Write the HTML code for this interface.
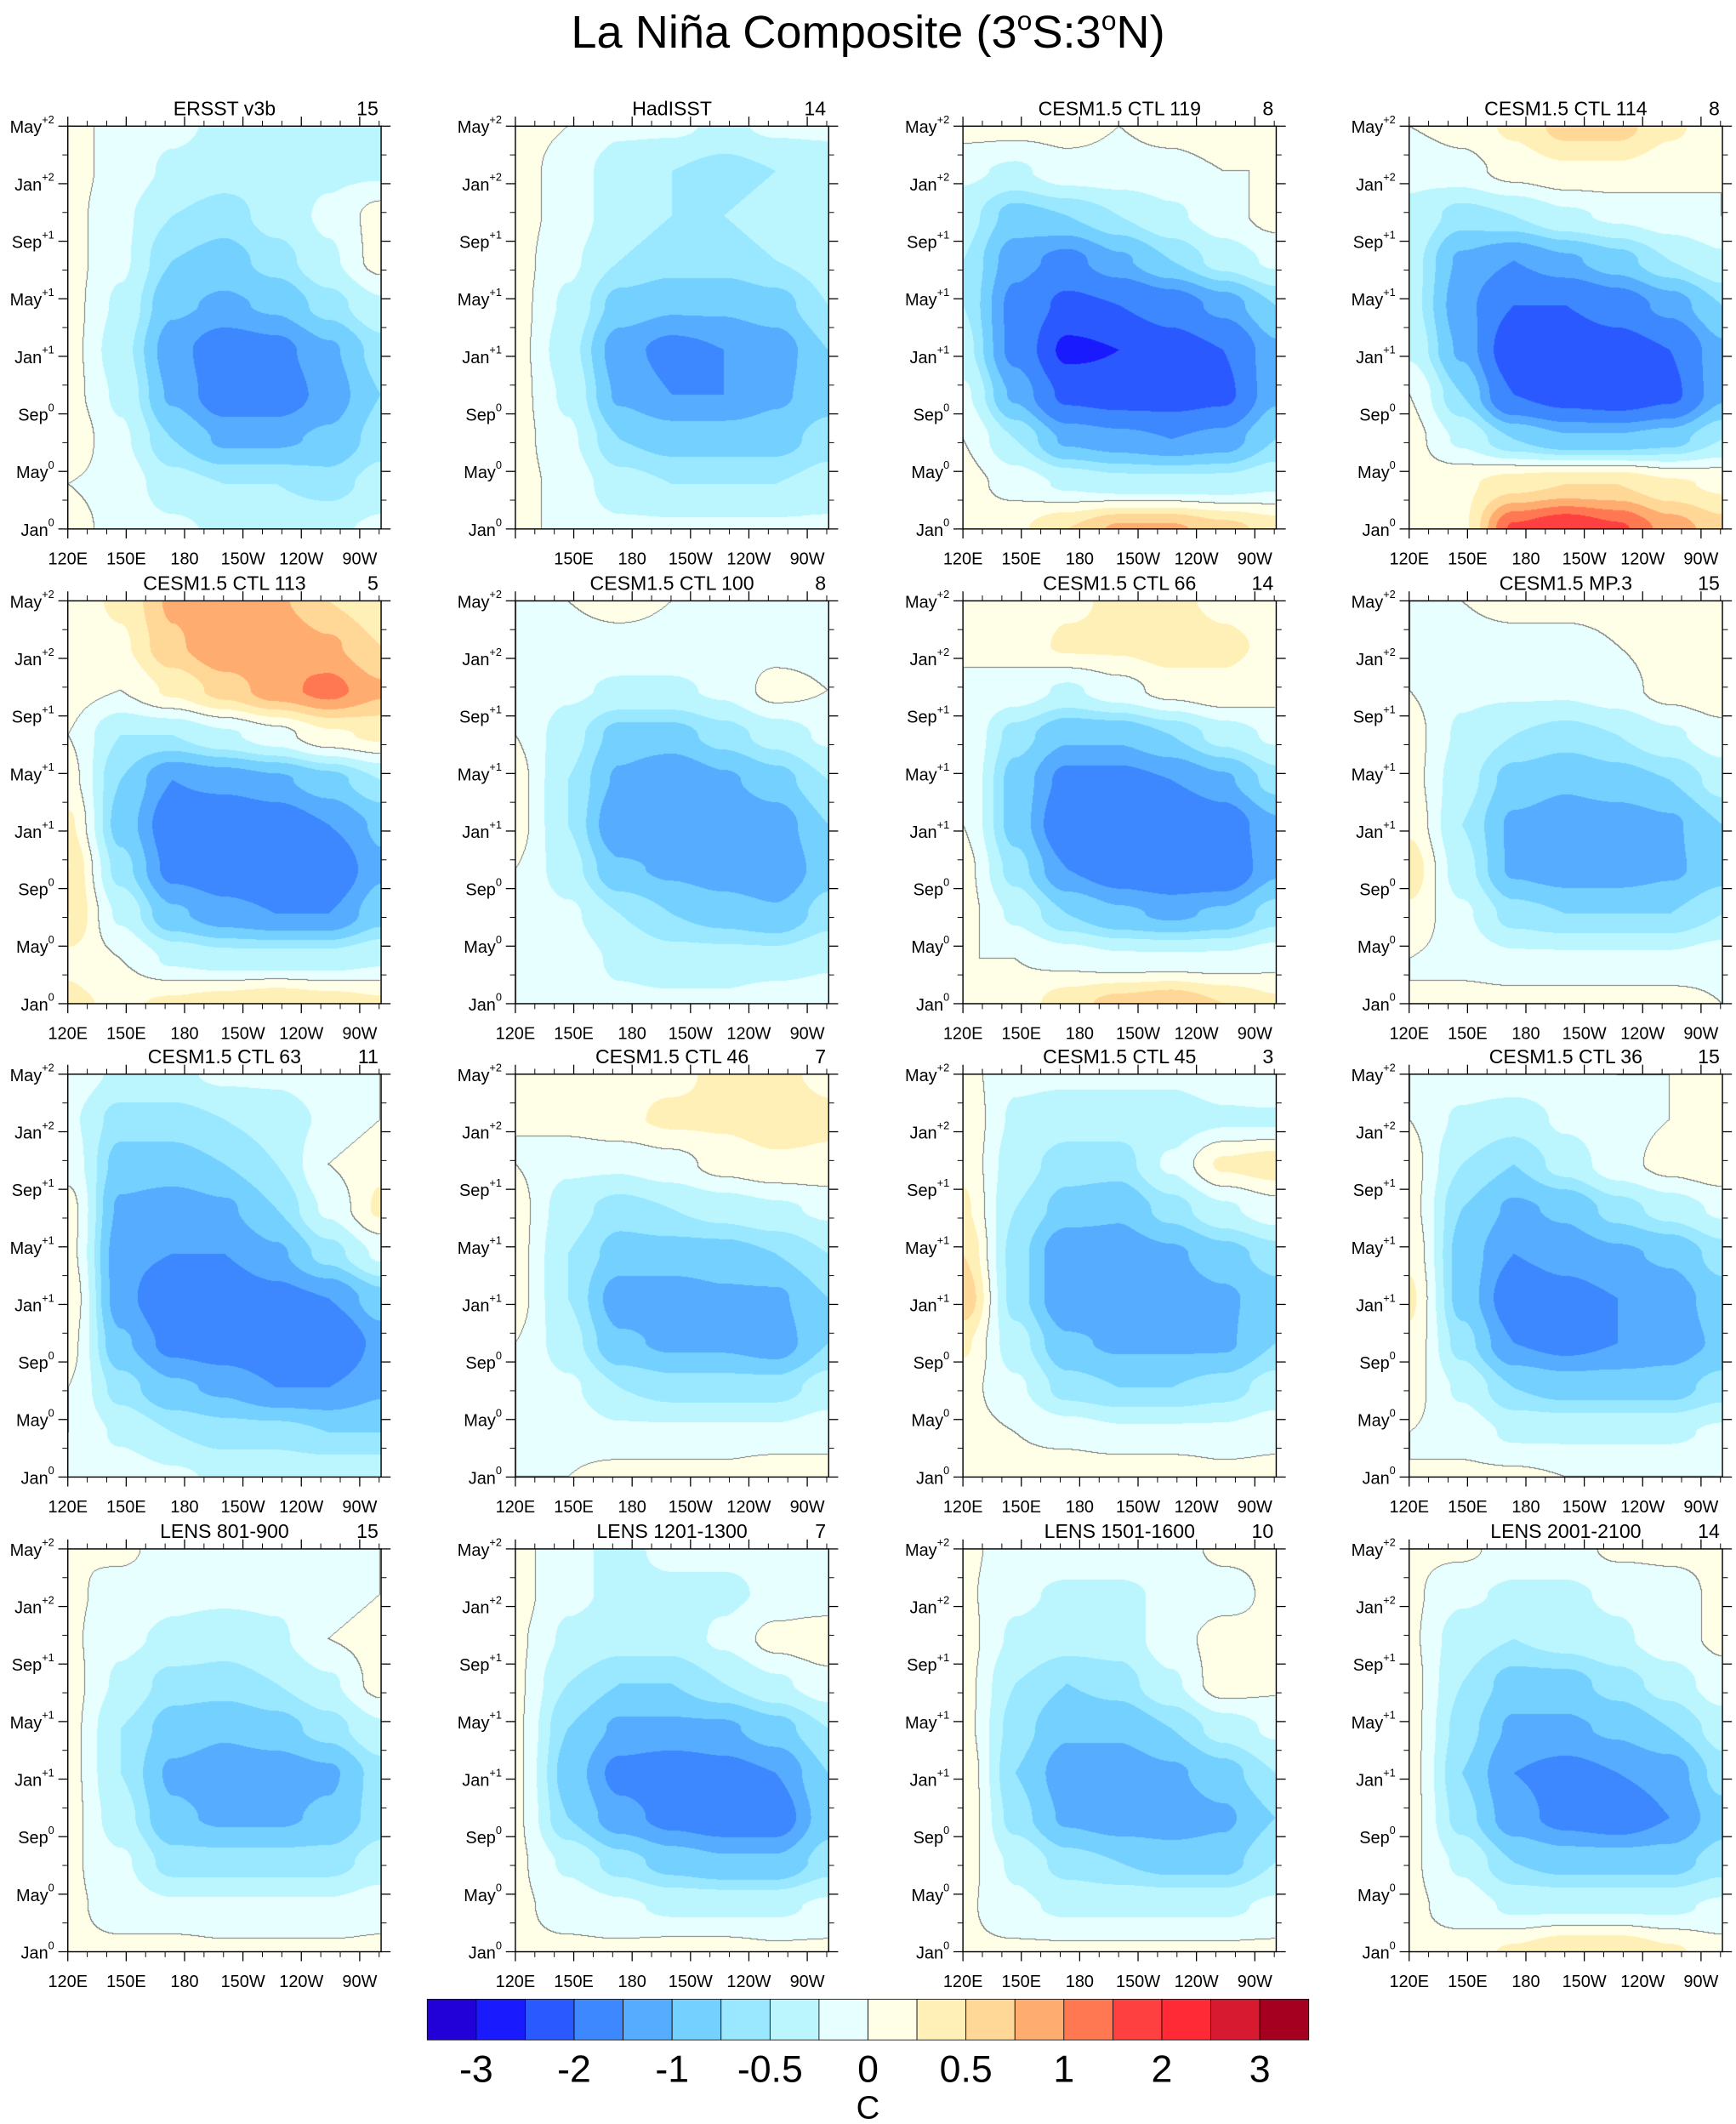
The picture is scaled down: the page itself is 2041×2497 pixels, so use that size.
<!DOCTYPE html>
<html><head><meta charset="utf-8"><style>
html,body{margin:0;padding:0;background:#fff;}
#wrap{position:relative;width:2041px;height:2497px;overflow:hidden;}
canvas,svg{position:absolute;left:0;top:0;}
text{font-family:"Liberation Sans",sans-serif;fill:#000;}
</style></head><body>
<div id="wrap">
<canvas id="cv" width="2041" height="2497"></canvas>
<svg id="sv" width="2041" height="2497" viewBox="0 0 1280 1566" preserveAspectRatio="none">
<text x="640" y="35" font-size="34" text-anchor="middle">La Niña Composite (3<tspan font-size="20" dy="-13">o</tspan><tspan dy="13">S:3</tspan><tspan font-size="20" dy="-13">o</tspan><tspan dy="13">N)</tspan></text>
</svg>
</div>
<script>
// ---- data ----
const panelTitles = ["ERSST v3b","HadISST","CESM1.5 CTL 119","CESM1.5 CTL 114","CESM1.5 CTL 113","CESM1.5 CTL 100","CESM1.5 CTL 66","CESM1.5 MP.3","CESM1.5 CTL 63","CESM1.5 CTL 46","CESM1.5 CTL 45","CESM1.5 CTL 36","LENS 801-900","LENS 1201-1300","LENS 1501-1600","LENS 2001-2100"];
const panelCounts = [15,14,8,8,5,8,14,15,11,7,3,15,15,7,10,14];
const timeLabels = [["May","+2"],["Jan","+2"],["Sep","+1"],["May","+1"],["Jan","+1"],["Sep","0"],["May","0"],["Jan","0"]];
const lonTicks = [120,150,180,210,240,270];
const lonLabels = ["120E","150E","180","150W","120W","90W"];
const cbLabels = ["-3","-2","-1","-0.5","0","0.5","1","2","3"];
const levels = [-2.5,-2,-1.6,-1.2,-0.95,-0.7,-0.5,-0.25,0,0.25,0.5,0.75,1,1.25,1.5,2,2.5];
const colors = ["#2200d8","#1a1aff","#2a5aff","#3d87ff","#56acff","#73d0ff","#99e8ff","#bbf6ff","#e8ffff","#ffffe8","#fff0b8","#ffd898","#ffac70","#ff7852","#ff4040","#ff2a35","#d81a30","#a50020"];
// fields: rows top (May+2) -> bottom (Jan0), cols 120E -> 80W
const f1=[[0.1,-0.1,-0.2,-0.3,-0.3,-0.3,-0.3],[0.1,-0.1,-0.3,-0.4,-0.4,-0.3,-0.3],[0.1,-0.2,-0.5,-0.6,-0.4,-0.2,0.1],[0.1,-0.2,-0.7,-0.8,-0.6,-0.3,0.1],[0.1,-0.3,-0.9,-1.0,-0.9,-0.6,-0.3],[0.1,-0.4,-1.1,-1.4,-1.3,-1.0,-0.6],[0.1,-0.3,-1.0,-1.4,-1.4,-1.1,-0.7],[0.2,-0.2,-0.7,-1.0,-1.0,-0.9,-0.6],[0.0,-0.1,-0.4,-0.5,-0.5,-0.6,-0.4],[0.1,-0.1,-0.2,-0.3,-0.3,-0.3,-0.2]];
const f2=[[0.1,0.0,-0.2,-0.2,-0.3,-0.2,-0.2],[0.1,-0.1,-0.4,-0.5,-0.6,-0.5,-0.4],[0.1,-0.1,-0.4,-0.5,-0.5,-0.4,-0.3],[0.1,-0.2,-0.5,-0.6,-0.6,-0.5,-0.4],[0.1,-0.3,-0.8,-0.9,-0.9,-0.8,-0.5],[0.1,-0.4,-1.1,-1.3,-1.2,-1.1,-0.7],[0.1,-0.3,-1.0,-1.2,-1.2,-1.0,-0.8],[0.1,-0.2,-0.7,-0.8,-0.8,-0.8,-0.6],[0.1,-0.1,-0.4,-0.5,-0.5,-0.5,-0.4],[0.1,-0.1,-0.2,-0.2,-0.2,-0.2,-0.2]];
const f3=[[0.1,0.1,0.1,0.0,0.1,0.2,0.1],[-0.2,-0.3,-0.1,-0.1,-0.1,0.0,0.0],[-0.4,-0.8,-0.7,-0.5,-0.3,-0.1,0.1],[-0.5,-1.1,-1.3,-1.0,-0.7,-0.4,-0.2],[-0.5,-1.3,-1.7,-1.6,-1.4,-1.1,-0.7],[-0.4,-1.3,-2.1,-2.0,-1.8,-1.6,-1.0],[-0.2,-1.0,-1.7,-1.8,-1.8,-1.7,-1.0],[0.0,-0.5,-1.0,-1.1,-1.2,-1.1,-0.7],[0.1,-0.1,-0.3,-0.4,-0.4,-0.4,-0.3],[0.1,0.2,0.5,0.8,0.8,0.6,0.4]];
const f4=[[0.0,0.1,0.3,0.6,0.6,0.3,0.1],[-0.2,-0.1,0.1,0.2,0.2,0.1,0.0],[-0.3,-0.6,-0.5,-0.3,-0.2,-0.1,0.0],[-0.4,-1.0,-1.2,-1.0,-0.8,-0.5,-0.3],[-0.4,-1.1,-1.6,-1.6,-1.4,-1.1,-0.7],[-0.3,-1.0,-1.9,-1.9,-1.8,-1.6,-1.0],[0.0,-0.7,-1.6,-1.8,-1.9,-1.7,-1.0],[0.1,-0.3,-0.7,-0.9,-0.9,-0.8,-0.5],[0.1,0.2,0.4,0.5,0.5,0.3,0.2],[0.0,0.2,1.3,1.5,1.3,0.9,0.6]];
const f5=[[0.1,0.3,0.8,1.0,0.8,0.5,0.3],[0.0,0.2,0.7,1.0,1.0,0.8,0.5],[0.1,0.0,0.3,0.6,0.9,1.1,0.8],[0.0,-0.5,-0.5,-0.3,-0.1,0.2,0.3],[0.1,-0.7,-1.2,-1.1,-1.0,-0.8,-0.5],[0.3,-0.8,-1.4,-1.5,-1.4,-1.2,-0.9],[0.5,-0.6,-1.3,-1.4,-1.5,-1.5,-1.0],[0.5,-0.3,-0.9,-1.1,-1.2,-1.2,-0.8],[0.2,0.0,-0.3,-0.4,-0.4,-0.4,-0.3],[0.3,0.2,0.3,0.4,0.5,0.4,0.3]];
const f6=[[0.0,0.0,0.1,0.0,-0.1,-0.1,-0.1],[0.0,-0.1,-0.1,-0.1,-0.1,-0.1,-0.1],[0.0,-0.2,-0.3,-0.3,-0.2,0.1,0.0],[0.0,-0.4,-0.8,-0.8,-0.6,-0.4,-0.2],[0.1,-0.5,-1.0,-1.2,-1.0,-0.8,-0.5],[0.1,-0.5,-1.2,-1.2,-1.2,-1.1,-0.7],[0.0,-0.4,-0.9,-1.0,-1.1,-1.2,-0.8],[0.0,-0.2,-0.5,-0.7,-0.8,-0.9,-0.6],[0.0,-0.1,-0.3,-0.4,-0.4,-0.4,-0.3],[0.0,-0.1,-0.2,-0.2,-0.2,-0.1,-0.1]];
const f7=[[0.0,0.0,0.2,0.3,0.3,0.2,0.1],[0.0,0.1,0.3,0.3,0.4,0.3,0.2],[0.0,-0.1,-0.3,-0.1,0.1,0.2,0.1],[0.0,-0.6,-0.9,-0.9,-0.7,-0.4,-0.2],[0.0,-0.8,-1.3,-1.3,-1.2,-1.0,-0.6],[0.0,-0.8,-1.5,-1.6,-1.6,-1.4,-1.0],[0.1,-0.6,-1.2,-1.4,-1.5,-1.5,-1.0],[0.1,-0.3,-0.7,-0.9,-1.0,-0.9,-0.6],[0.0,0.0,-0.1,-0.2,-0.2,-0.2,-0.1],[0.1,0.1,0.4,0.6,0.7,0.5,0.3]];
const f8=[[0.0,0.0,0.1,0.1,0.1,0.1,0.1],[0.0,-0.1,-0.1,-0.1,0.0,0.1,0.1],[0.0,-0.2,-0.2,-0.2,-0.1,0.1,0.2],[0.1,-0.3,-0.5,-0.6,-0.5,-0.3,-0.1],[0.1,-0.4,-0.8,-0.9,-0.8,-0.7,-0.4],[0.2,-0.5,-1.0,-1.1,-1.1,-1.0,-0.7],[0.4,-0.4,-1.0,-1.1,-1.1,-1.0,-0.8],[0.2,-0.2,-0.6,-0.7,-0.7,-0.7,-0.5],[0.0,-0.1,-0.2,-0.2,-0.2,-0.2,-0.1],[0.0,0.1,0.1,0.1,0.1,0.1,0.0]];
const f9=[[-0.1,-0.3,-0.3,-0.2,-0.2,-0.1,0.0],[-0.2,-0.6,-0.6,-0.5,-0.4,-0.2,0.0],[-0.1,-0.8,-0.8,-0.7,-0.5,0.0,0.2],[0.1,-1.0,-1.1,-1.0,-0.7,-0.2,0.3],[0.1,-1.1,-1.2,-1.2,-1.0,-0.6,-0.2],[0.2,-1.1,-1.5,-1.4,-1.3,-1.2,-0.8],[0.1,-0.9,-1.3,-1.4,-1.5,-1.6,-1.1],[0.0,-0.6,-0.9,-1.0,-1.2,-1.2,-1.0],[0.0,-0.3,-0.5,-0.6,-0.6,-0.7,-0.7],[-0.1,-0.1,-0.2,-0.3,-0.3,-0.3,-0.3]];
const f10=[[0.0,0.1,0.2,0.2,0.3,0.3,0.2],[0.0,0.1,0.2,0.3,0.3,0.4,0.3],[0.0,-0.2,-0.2,-0.1,0.1,0.2,0.2],[0.1,-0.4,-0.6,-0.5,-0.4,-0.3,-0.2],[0.1,-0.5,-0.8,-0.8,-0.8,-0.7,-0.5],[0.1,-0.5,-1.1,-1.1,-1.0,-1.0,-0.7],[0.0,-0.4,-0.9,-1.0,-1.0,-1.1,-0.7],[0.0,-0.2,-0.5,-0.6,-0.6,-0.6,-0.4],[0.0,-0.1,-0.2,-0.2,-0.2,-0.2,-0.1],[0.0,0.0,0.1,0.1,0.1,0.2,0.1]];
const f11=[[0.1,-0.2,-0.2,-0.2,-0.2,-0.1,0.0],[0.2,-0.3,-0.4,-0.4,-0.4,-0.3,-0.3],[0.2,-0.4,-0.6,-0.6,-0.2,0.3,0.4],[0.3,-0.5,-0.8,-0.9,-0.6,-0.3,-0.1],[0.5,-0.6,-1.2,-1.1,-1.0,-0.8,-0.6],[0.7,-0.6,-1.2,-1.2,-1.1,-1.0,-0.8],[0.3,-0.4,-0.9,-1.0,-1.0,-1.0,-0.7],[0.1,-0.2,-0.6,-0.7,-0.7,-0.6,-0.4],[0.1,0.0,-0.1,-0.2,-0.2,-0.2,-0.1],[0.1,0.1,0.2,0.2,0.2,0.1,0.1]];
const f12=[[0.0,-0.1,-0.1,-0.1,0.0,0.0,0.0],[0.0,-0.3,-0.4,-0.2,-0.1,0.0,0.1],[0.1,-0.5,-0.7,-0.4,-0.1,0.1,0.2],[0.1,-0.7,-1.0,-0.9,-0.6,-0.4,-0.2],[0.2,-0.8,-1.2,-1.1,-1.0,-0.9,-0.6],[0.3,-0.8,-1.4,-1.3,-1.2,-1.1,-0.8],[0.2,-0.6,-1.2,-1.3,-1.2,-1.1,-0.9],[0.1,-0.3,-0.7,-0.8,-0.8,-0.8,-0.6],[0.0,-0.1,-0.3,-0.3,-0.3,-0.3,-0.2],[0.0,0.05,0.05,0.0,0.0,0.0,0.0]];
const f13=[[0.0,0.05,-0.1,-0.1,-0.1,-0.1,0.0],[0.05,-0.1,-0.2,-0.2,-0.2,-0.1,0.0],[0.05,-0.2,-0.3,-0.4,-0.3,0.0,0.1],[0.1,-0.3,-0.6,-0.6,-0.5,-0.3,0.1],[0.1,-0.5,-0.8,-0.9,-0.8,-0.6,-0.3],[0.1,-0.5,-1.0,-1.1,-1.1,-1.0,-0.6],[0.1,-0.4,-0.9,-1.0,-1.0,-0.9,-0.6],[0.05,-0.2,-0.6,-0.6,-0.6,-0.6,-0.4],[0.05,-0.1,-0.2,-0.2,-0.2,-0.2,-0.1],[0.05,0.05,0.1,0.05,0.05,0.05,0.05]];
const f14=[[0.1,-0.2,-0.3,-0.2,-0.2,-0.2,-0.1],[0.1,-0.2,-0.3,-0.3,-0.3,-0.2,-0.2],[0.05,-0.3,-0.4,-0.4,-0.2,0.1,0.2],[0.05,-0.5,-0.7,-0.7,-0.5,-0.3,-0.1],[0.05,-0.7,-1.0,-1.0,-1.0,-0.8,-0.5],[0.05,-0.8,-1.3,-1.4,-1.3,-1.2,-0.7],[0.05,-0.7,-1.1,-1.3,-1.4,-1.4,-0.8],[0.05,-0.3,-0.6,-0.8,-0.9,-0.9,-0.6],[0.05,-0.1,-0.2,-0.3,-0.3,-0.3,-0.2],[0.05,0.05,0.05,0.1,0.1,0.05,0.05]];
const f15=[[0.05,-0.1,-0.1,-0.1,-0.1,0.05,0.05],[0.05,-0.2,-0.3,-0.3,-0.2,-0.1,0.05],[0.1,-0.3,-0.4,-0.4,-0.1,0.1,0.05],[0.1,-0.5,-0.7,-0.6,-0.3,0.15,0.05],[0.1,-0.6,-0.9,-0.9,-0.7,-0.4,-0.2],[0.2,-0.7,-1.1,-1.1,-1.0,-0.8,-0.5],[0.2,-0.6,-1.0,-1.1,-1.1,-1.0,-0.7],[0.1,-0.3,-0.6,-0.7,-0.8,-0.8,-0.5],[0.05,-0.2,-0.3,-0.3,-0.3,-0.3,-0.2],[0.05,0.05,0.05,0.05,0.05,0.05,0.05]];
const f16=[[0.05,0.05,-0.1,-0.1,0.05,0.05,0.05],[0.05,-0.2,-0.3,-0.3,-0.2,-0.1,0.05],[0.05,-0.4,-0.5,-0.4,-0.3,-0.1,0.05],[0.1,-0.5,-0.8,-0.8,-0.6,-0.4,-0.1],[0.1,-0.6,-1.0,-1.0,-0.9,-0.7,-0.4],[0.1,-0.7,-1.2,-1.3,-1.2,-1.1,-0.6],[0.1,-0.6,-1.1,-1.3,-1.4,-1.2,-0.8],[0.05,-0.3,-0.7,-0.8,-0.8,-0.8,-0.6],[0.05,-0.1,-0.3,-0.3,-0.3,-0.3,-0.2],[0.05,0.1,0.3,0.5,0.5,0.3,0.1]];
const fields = [f1,f2,f3,f4,f5,f6,f7,f8,f9,f10,f11,f12,f13,f14,f15,f16];

// ---- layout ----
const S = 2041/1280;
const colX = [50,380,710,1039], PW = 231;
const rowY = [93,443,792,1142], PH = 297;
const LON0 = 120, LON1 = 281;
const xOf = (lon, x0) => x0 + (lon-LON0)/(LON1-LON0)*PW;
const yOfT = (i, y0) => y0 + i/(timeLabels.length-1)*PH;
const NS = "http://www.w3.org/2000/svg";
const sv = document.getElementById('sv');
function mk(tag, attrs, parent){const e=document.createElementNS(NS,tag);for(const k in attrs)e.setAttribute(k,attrs[k]);(parent||sv).appendChild(e);return e;}
function hex(c){return [parseInt(c.substr(1,2),16),parseInt(c.substr(3,2),16),parseInt(c.substr(5,2),16)];}
const rgb = colors.map(hex);
function lvlIndex(v){let i=0;while(i<levels.length && v>=levels[i])i++;return i;}

// ---- fields on canvas ----
const cv = document.getElementById('cv'); const ctx = cv.getContext('2d');
const img = ctx.createImageData(cv.width, cv.height);
const D = img.data;
for(let i=0;i<D.length;i+=4){D[i]=255;D[i+1]=255;D[i+2]=255;D[i+3]=255;}
function sample(g, u, v){
  const nr=g.length, nc=g[0].length;
  const fx=u*(nc-1), fy=v*(nr-1);
  const x0=Math.min(nc-2,Math.floor(fx)), y0=Math.min(nr-2,Math.floor(fy));
  let tx=fx-x0, ty=fy-y0;
  tx=tx*tx*(3-2*tx); ty=ty*ty*(3-2*ty);
  const a=g[y0][x0], b=g[y0][x0+1], c=g[y0+1][x0], d=g[y0+1][x0+1];
  return (a*(1-tx)+b*tx)*(1-ty)+(c*(1-tx)+d*tx)*ty;
}
fields.forEach((g, p) => {
  const px0=Math.round(colX[p%4]*S), py0=Math.round(rowY[Math.floor(p/4)]*S);
  const pw=Math.round(PW*S), ph=Math.round(PH*S);
  const sign=new Int8Array(pw*ph);
  for(let y=0;y<ph;y++)for(let x=0;x<pw;x++){
    const v=sample(g,x/(pw-1),y/(ph-1));
    sign[y*pw+x]= v>=0?1:0;
    const c=rgb[lvlIndex(v)];
    const k=((py0+y)*cv.width+(px0+x))*4;
    D[k]=c[0];D[k+1]=c[1];D[k+2]=c[2];
  }
  for(let y=0;y<ph-1;y++)for(let x=0;x<pw-1;x++){
    const s=sign[y*pw+x];
    if(s!==sign[y*pw+x+1]||s!==sign[(y+1)*pw+x]){
      const k=((py0+y)*cv.width+(px0+x))*4;D[k]=120;D[k+1]=120;D[k+2]=120;
    }
  }
});
ctx.putImageData(img,0,0);

// ---- axes / labels ----
fields.forEach((g, p) => {
  const x0=colX[p%4], y0=rowY[Math.floor(p/4)];
  const grp=mk('g',{});
  
  
  const fr=mk('rect',{x:x0,y:y0,width:PW,height:PH,fill:'none',stroke:'#000','stroke-width':0.9},grp);
  
  
  const t=mk('text',{x:x0+PW/2,y:y0-8,'font-size':14.5,'text-anchor':'middle'},grp);
  t.textContent=panelTitles[p];
  
  
  const n=mk('text',{x:x0+PW-2,y:y0-8,'font-size':14.5,'text-anchor':'end'},grp);
  n.textContent=panelCounts[p];
  
  
  for(let i=0;i<timeLabels.length;i++){
    const y=yOfT(i,y0);
    mk('line',{x1:x0-7,x2:x0,y1:y,y2:y,stroke:'#000','stroke-width':0.8},grp);
    mk('line',{x1:x0+PW,x2:x0+PW+7,y1:y,y2:y,stroke:'#000','stroke-width':0.8},grp);
    if(i<timeLabels.length-1){const ym=y+PH/(timeLabels.length-1)/2;
      mk('line',{x1:x0-4,x2:x0,y1:ym,y2:ym,stroke:'#000','stroke-width':0.6},grp);
      mk('line',{x1:x0+PW,x2:x0+PW+4,y1:ym,y2:ym,stroke:'#000','stroke-width':0.6},grp);}
    const lt=mk('text',{x:x0-10,y:y+5,'font-size':12.5,'text-anchor':'end'},grp);
    lt.innerHTML=timeLabels[i][0]+'<tspan font-size="8" dy="-7">'+timeLabels[i][1]+'</tspan>';
    
    
  }
  for(let lon=120;lon<=280;lon+=10){
    const x=xOf(lon,x0), major=(lon%30===0);
    const L=major?7:4;
    mk('line',{x1:x,x2:x,y1:y0+PH,y2:y0+PH+L,stroke:'#000','stroke-width':major?0.8:0.6},grp);
    mk('line',{x1:x,x2:x,y1:y0-L,y2:y0,stroke:'#000','stroke-width':major?0.8:0.6},grp);
  }
  lonTicks.forEach((lon,i)=>{
    if(p===1 && i===0) return;
    const lb=mk('text',{x:xOf(lon,x0),y:y0+PH+26,'font-size':12.5,'text-anchor':'middle'},grp);
    lb.textContent=lonLabels[i];
    
    
  });
});

// ---- colorbar ----
const cbX0=315, cbX1=965, cbY=1474, cbH=30;
const bw=(cbX1-cbX0)/colors.length;
const cb=mk('g',{});


colors.forEach((c,i)=>{
  const r=mk('rect',{x:cbX0+i*bw,y:cbY,width:bw,height:cbH,fill:c,stroke:'#000','stroke-width':0.5},cb);
  
  
});
cbLabels.forEach((l,i)=>{
  const t=mk('text',{x:cbX0+(2*i+1)*bw,y:1535,'font-size':28,'text-anchor':'middle'},cb);
  t.textContent=l;
  
  
});
const cu=mk('text',{x:640,y:1562,'font-size':24,'text-anchor':'middle'},cb);
cu.textContent='C';


</script>
</body></html>
